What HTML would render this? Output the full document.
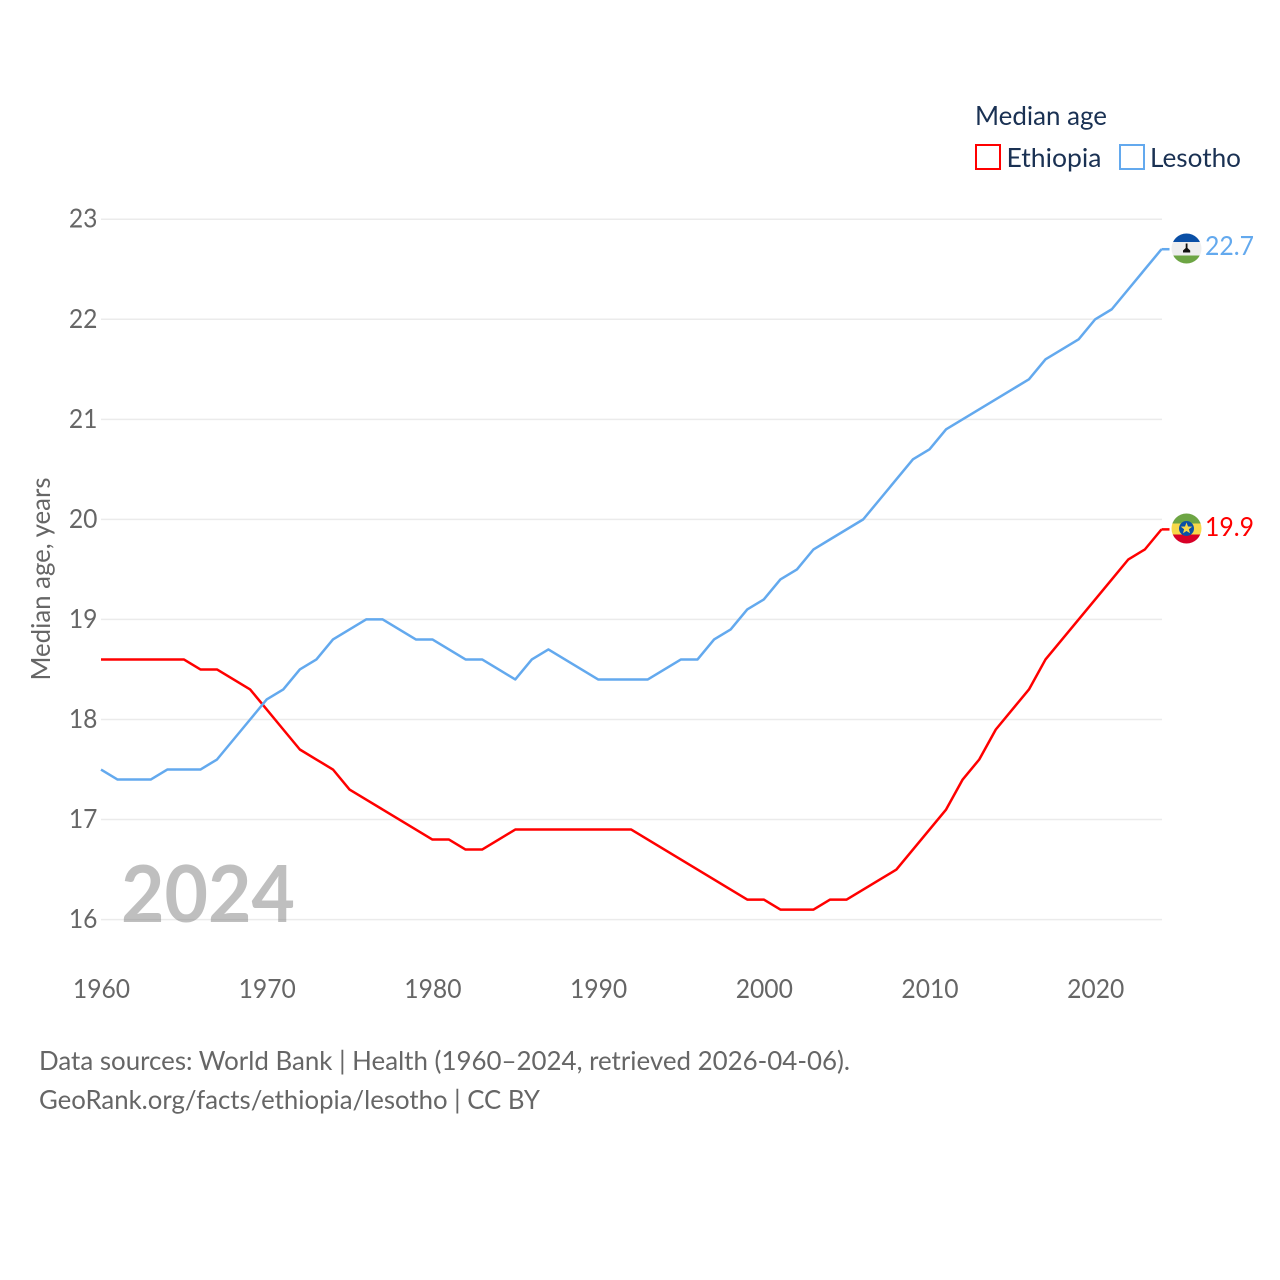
<!DOCTYPE html>
<html lang="en">
<head>
<meta charset="utf-8">
<title>Median age: Ethiopia and Lesotho</title>
<style>
html,body{margin:0;padding:0;background:#fff;width:1280px;height:1280px;overflow:hidden}
svg{display:block}
text{font-family:"Lato","Carlito","Liberation Sans",sans-serif}
</style>
</head>
<body>
<svg id="chart" xmlns="http://www.w3.org/2000/svg" width="1280" height="1280" viewBox="0 0 1280 1280">
  <defs>
    <clipPath id="clip-ls"><circle cx="1186.5" cy="248.5" r="15"/></clipPath>
    <clipPath id="clip-et"><circle cx="1186.5" cy="528.5" r="15"/></clipPath>
  </defs>
  <g id="grid"></g>
  <g id="yticks"></g>
  <g id="xticks"></g>
  <text transform="translate(50,579) rotate(-90)" text-anchor="middle" font-size="26" fill="#666" textLength="203" lengthAdjust="spacingAndGlyphs">Median age, years</text>
  <text x="121" y="922" font-size="79" font-weight="700" fill="#7f7f7f" fill-opacity="0.5" textLength="174" lengthAdjust="spacingAndGlyphs">2024</text>
  <g id="series"></g>

  <g clip-path="url(#clip-ls)">
    <rect x="1171" y="233" width="31" height="9" fill="#0a4fa6"/>
    <rect x="1171" y="242" width="31" height="13.5" fill="#eeeeee"/>
    <rect x="1171" y="255.5" width="31" height="9" fill="#6da544"/>
    <path d="M1185.7 243.5h1.800v4.500l2.700 2.500v2h-7.200v-2l2.700-2.500z" fill="#111"/>
  </g>
  <g clip-path="url(#clip-et)">
    <rect x="1171" y="513" width="31" height="10.5" fill="#6da544"/>
    <rect x="1171" y="523.5" width="31" height="11" fill="#f6d84a"/>
    <rect x="1171" y="534.5" width="31" height="10" fill="#d80027"/>
    <circle cx="1186.500" cy="528.500" r="7.500" fill="#0a4fa6"/>
    <polygon points="1186.500,522.500 1188,526.500 1192.200,526.600 1188.900,529.300 1190,533.300 1186.500,531 1183,533.300 1184.100,529.300 1180.800,526.600 1185,526.500" fill="#f6d84a"/>
  </g>
  <text x="1205" y="255" font-size="26" fill="#63a9ee" textLength="49" lengthAdjust="spacingAndGlyphs">22.7</text>
  <text x="1205" y="536" font-size="26" fill="#ff0000" textLength="49" lengthAdjust="spacingAndGlyphs">19.9</text>

  <g>
    <text x="975" y="125" font-size="26" fill="#1a3153" textLength="132" lengthAdjust="spacingAndGlyphs">Median age</text>
    <g>
      <rect x="976" y="145" width="24" height="24" fill="none" stroke="#ff0000" stroke-width="2"/>
      <text x="1006.5" y="167" font-size="26" fill="#1a3153" textLength="95" lengthAdjust="spacingAndGlyphs">Ethiopia</text>
    </g>
    <g>
      <rect x="1120" y="145" width="24" height="24" fill="none" stroke="#63a9ee" stroke-width="2"/>
      <text x="1150" y="167" font-size="26" fill="#1a3153" textLength="91" lengthAdjust="spacingAndGlyphs">Lesotho</text>
    </g>
  </g>

  <g>
    <text x="39" y="1070" font-size="26" fill="#666" textLength="811" lengthAdjust="spacingAndGlyphs">Data sources: World Bank | Health (1960–2024, retrieved 2026-04-06).</text>
    <text x="39" y="1109" font-size="26" fill="#666" textLength="501" lengthAdjust="spacingAndGlyphs">GeoRank.org/facts/ethiopia/lesotho | CC BY</text>
  </g>
</svg>
<script>
const years = [1960,1961,1962,1963,1964,1965,1966,1967,1968,1969,1970,1971,1972,1973,1974,1975,1976,1977,1978,1979,1980,1981,1982,1983,1984,1985,1986,1987,1988,1989,1990,1991,1992,1993,1994,1995,1996,1997,1998,1999,2000,2001,2002,2003,2004,2005,2006,2007,2008,2009,2010,2011,2012,2013,2014,2015,2016,2017,2018,2019,2020,2021,2022,2023,2024];
const ethiopia = [18.6,18.6,18.6,18.6,18.6,18.6,18.5,18.5,18.4,18.3,18.1,17.9,17.7,17.6,17.5,17.3,17.2,17.1,17.0,16.9,16.8,16.8,16.7,16.7,16.8,16.9,16.9,16.9,16.9,16.9,16.9,16.9,16.9,16.8,16.7,16.6,16.5,16.4,16.3,16.2,16.2,16.1,16.1,16.1,16.2,16.2,16.3,16.4,16.5,16.7,16.9,17.1,17.4,17.6,17.9,18.1,18.3,18.6,18.8,19.0,19.2,19.4,19.6,19.7,19.9];
const lesotho = [17.5,17.4,17.4,17.4,17.5,17.5,17.5,17.6,17.8,18.0,18.2,18.3,18.5,18.6,18.8,18.9,19.0,19.0,18.9,18.8,18.8,18.7,18.6,18.6,18.5,18.4,18.6,18.7,18.6,18.5,18.4,18.4,18.4,18.4,18.5,18.6,18.6,18.8,18.9,19.1,19.2,19.4,19.5,19.7,19.8,19.9,20.0,20.2,20.4,20.6,20.7,20.9,21.0,21.1,21.2,21.3,21.4,21.6,21.7,21.8,22.0,22.1,22.3,22.5,22.7];
const yTickValues = [16,17,18,19,20,21,22,23];
const xTickValues = [1960,1970,1980,1990,2000,2010,2020];

const NS = 'http://www.w3.org/2000/svg';
const xScale = function (year) { return 101 + (year - 1960) * (1161.5 - 101) / 64; };
const yScale = function (v) { return 919.6 - (v - 16) * (919.6 - 219.2) / 7; };
const digitWidth = 14.3;

const gridGroup = document.getElementById('grid');
const yGroup = document.getElementById('yticks');
const xGroup = document.getElementById('xticks');
const seriesGroup = document.getElementById('series');

yTickValues.forEach(function (v) {
  const line = document.createElementNS(NS, 'line');
  
  
  line.setAttribute('x1', 101);
  line.setAttribute('x2', 1162);
  line.setAttribute('y1', yScale(v));
  line.setAttribute('y2', yScale(v));
  line.setAttribute('stroke', '#ebebeb');
  line.setAttribute('stroke-width', 1.5);
  gridGroup.appendChild(line);

  const label = document.createElementNS(NS, 'text');
  
  
  label.setAttribute('x', 97.5);
  label.setAttribute('y', yScale(v) + 8.5);
  label.setAttribute('text-anchor', 'end');
  label.setAttribute('font-size', 26);
  label.setAttribute('fill', '#666');
  label.setAttribute('textLength', String(v).length * digitWidth);
  label.setAttribute('lengthAdjust', 'spacingAndGlyphs');
  label.textContent = v;
  yGroup.appendChild(label);
});

xTickValues.forEach(function (yr) {
  const label = document.createElementNS(NS, 'text');
  
  
  label.setAttribute('x', xScale(yr) + 0.5);
  label.setAttribute('y', 998);
  label.setAttribute('text-anchor', 'middle');
  label.setAttribute('font-size', 26);
  label.setAttribute('fill', '#666');
  label.setAttribute('textLength', String(yr).length * digitWidth);
  label.setAttribute('lengthAdjust', 'spacingAndGlyphs');
  label.textContent = yr;
  xGroup.appendChild(label);
});

function drawSeries(values, color, lineName, connectorName) {
  const pts = values.map(function (v, i) { return xScale(years[i]).toFixed(2) + ',' + yScale(v).toFixed(2); });
  const poly = document.createElementNS(NS, 'polyline');
  
  
  poly.setAttribute('points', pts.join(' '));
  poly.setAttribute('fill', 'none');
  poly.setAttribute('stroke', color);
  poly.setAttribute('stroke-width', 2.5);
  poly.setAttribute('stroke-linejoin', 'round');
  seriesGroup.appendChild(poly);

  const lastValue = values[values.length - 1];
  const conn = document.createElementNS(NS, 'line');
  
  
  conn.setAttribute('x1', xScale(years[years.length - 1]));
  conn.setAttribute('x2', xScale(years[years.length - 1]) + 8);
  conn.setAttribute('y1', yScale(lastValue));
  conn.setAttribute('y2', yScale(lastValue));
  conn.setAttribute('stroke', color);
  conn.setAttribute('stroke-width', 2.5);
  seriesGroup.appendChild(conn);
}
drawSeries(ethiopia, '#ff0000', 'ethiopia-line', 'ethiopia-connector');
drawSeries(lesotho, '#63a9ee', 'lesotho-line', 'lesotho-connector');
</script>
</body>
</html>
